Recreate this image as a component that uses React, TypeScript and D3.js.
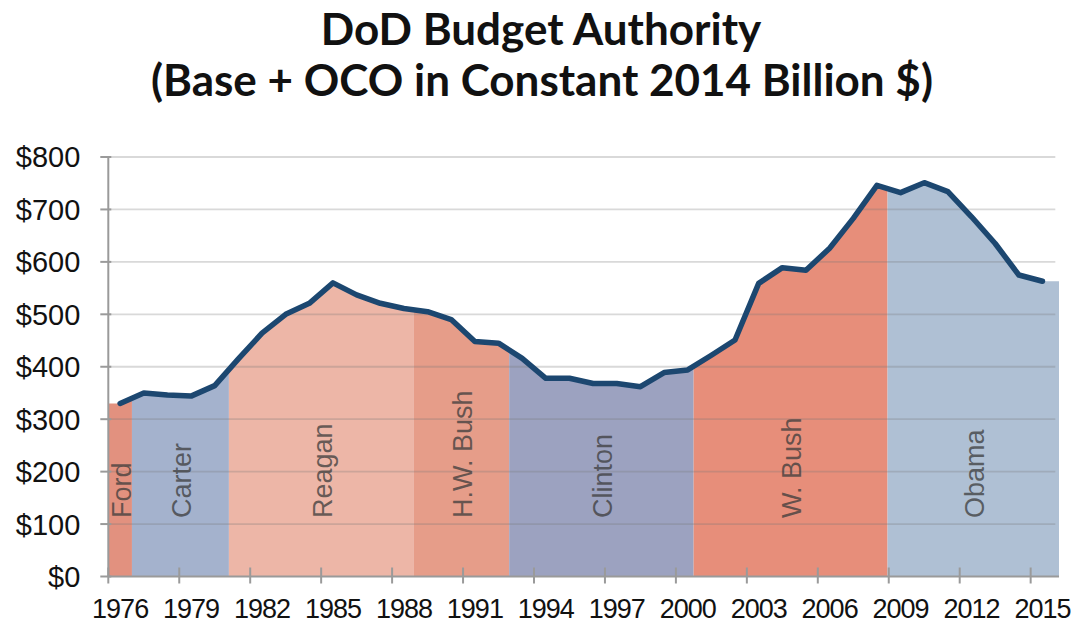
import { useEffect, useRef } from "react";
import * as d3 from "d3";

// DoD budget authority, base + OCO, constant 2014 $bn
const years = d3.range(1976, 2016);
const budget = [
  330, 350, 346, 344, 364, 415, 464, 500, 521, 560,
  537, 521, 511, 505, 490, 448, 445, 416, 378, 378,
  368, 368, 362, 389, 394, 422, 451, 559, 589, 584,
  626, 683, 746, 732, 751, 734, 686, 635, 575, 563,
];

// presidencies as fractional fiscal-year spans
const eraNames = ["Ford", "Carter", "Reagan", "H.W. Bush", "Clinton", "W. Bush", "Obama"];
const eraStart = [1976, 1977, 1981.1, 1988.9, 1992.95, 2000.75, 2008.95];
const eraEnd = [1977, 1981.1, 1988.9, 1992.95, 2000.75, 2008.95, 2016.2];
const eraColors = ["#e2917f", "#a4b2cd", "#edb6a7", "#e69d89", "#9ca2c0", "#e78e7a", "#afc0d4"];

const yTicks = [0, 100, 200, 300, 400, 500, 600, 700, 800];
const xTickYears = d3.range(1976, 2016, 3);

export default function App() {
  const ref = useRef<SVGSVGElement | null>(null);

  useEffect(() => {
    if (!ref.current) return;
    const svg = d3.select(ref.current);
    svg.selectAll("*").remove();

    const width = 1075;
    const height = 624;
    const left = 108.3;
    const right = 1054.3;
    const top = 157;
    const bottom = 576.5;

    // x in "year" units: a year's slot runs from year to year+1
    const x = d3.scaleLinear().domain([1976, 2016]).range([left, right]);
    const y = d3.scaleLinear().domain([0, 800]).range([bottom, top]);

    svg.attr("width", width).attr("height", height);

    // Title
    const title = svg.append("g")
      .attr("font-family", "Lato, 'Open Sans', sans-serif")
      .attr("font-weight", 700)
      .attr("font-size", 44)
      .attr("fill", "#111")
      .attr("text-anchor", "middle");
    title.append("text").attr("x", 541).attr("y", 45).text("DoD Budget Authority");
    title.append("text").attr("x", 542).attr("y", 96).text("(Base + OCO in Constant 2014 Billion $)");

    // Area points (extend to the plot edges)
    const pts: [number, number][] = years.map((yr, i) => [yr + 0.5, budget[i]]);
    const areaPts: [number, number][] = [
      [1976, budget[0]],
      ...pts,
      [eraEnd[eraEnd.length - 1], budget[budget.length - 1]],
    ];

    const area = d3.area<[number, number]>()
      .x(d => x(d[0]))
      .y0(y(0))
      .y1(d => y(d[1]));

    svg.append("defs").append("clipPath")
      .attr("id", "budget-clip")
      .append("path")
      .attr("d", area(areaPts)!);

    const eras = eraNames.map((name, i) => ({ name, start: eraStart[i], end: eraEnd[i], color: eraColors[i] }));

    svg.append("g")
      .attr("clip-path", "url(#budget-clip)")
      .selectAll("rect")
      .data(eras)
      .enter()
      .append("rect")
      .attr("x", d => x(d.start))
      .attr("width", d => x(d.end) - x(d.start))
      .attr("y", top - 10)
      .attr("height", bottom - top + 10)
      .attr("fill", d => d.color);

    // Gridlines (drawn over the fills)
    svg.append("g")
      .selectAll("line")
      .data(yTicks.filter(t => t > 0))
      .enter()
      .append("line")
      .attr("x1", left)
      .attr("x2", right + 1)
      .attr("y1", d => y(d))
      .attr("y2", d => y(d))
      .attr("stroke", "#777")
      .attr("stroke-opacity", 0.28)
      .attr("stroke-width", 1.8);

    // Era labels
    svg.append("g")
      .selectAll("text")
      .data(eras)
      .enter()
      .append("text")
      .attr("transform", d => `translate(${(x(d.start) + x(d.end)) / 2 + 1},518) rotate(-90)`)
      .attr("dy", "0.35em")
      .attr("font-family", "'Liberation Sans', Arial, sans-serif")
      .attr("font-size", 27)
      .attr("fill", "#3c3c3c")
      .attr("fill-opacity", 0.75)
      .text(d => d.name);

    // Budget line
    const line = d3.line<[number, number]>()
      .x(d => x(d[0]))
      .y(d => y(d[1]));

    svg.append("path")
      .attr("d", line(pts)!)
      .attr("fill", "none")
      .attr("stroke", "#1c4770")
      .attr("stroke-width", 5.5)
      .attr("stroke-linejoin", "round")
      .attr("stroke-linecap", "round");

    // Y axis
    const yAxis = svg.append("g").attr("transform", `translate(${left},0)`);
    yAxis.append("line")
      .attr("y1", top)
      .attr("y2", bottom)
      .attr("stroke", "#9a9a9a")
      .attr("stroke-width", 2);
    yAxis.selectAll("line.tick")
      .data(yTicks)
      .enter()
      .append("line")
      .attr("class", "tick")
      .attr("x1", -8)
      .attr("x2", 3)
      .attr("y1", d => y(d))
      .attr("y2", d => y(d))
      .attr("stroke", "#9a9a9a")
      .attr("stroke-width", 2);
    yAxis.selectAll("text")
      .data(yTicks)
      .enter()
      .append("text")
      .attr("x", -28)
      .attr("y", d => y(d))
      .attr("dy", "0.36em")
      .attr("text-anchor", "end")
      .attr("font-family", "'Liberation Sans', Arial, sans-serif")
      .attr("font-size", 29)
      .attr("fill", "#111")
      .text(d => `$${d}`);

    // X axis
    const xAxis = svg.append("g").attr("transform", `translate(0,${bottom})`);
    xAxis.append("line")
      .attr("x1", left)
      .attr("x2", x(eraEnd[eraEnd.length - 1]))
      .attr("stroke", "#9a9a9a")
      .attr("stroke-width", 2.2);
    xAxis.selectAll("line.tick")
      .data(xTickYears)
      .enter()
      .append("line")
      .attr("class", "tick")
      .attr("x1", d => x(d))
      .attr("x2", d => x(d))
      .attr("y1", -9)
      .attr("y2", 7)
      .attr("stroke", "#9a9a9a")
      .attr("stroke-width", 2);
    xAxis.selectAll("text")
      .data(xTickYears)
      .enter()
      .append("text")
      .attr("x", d => x(d + 0.5))
      .attr("y", 41)
      .attr("text-anchor", "middle")
      .attr("font-family", "'Liberation Sans', Arial, sans-serif")
      .attr("font-size", 27)
      .attr("letter-spacing", -1)
      .attr("fill", "#111")
      .text(d => String(d));
  }, []);

  return (
    <div style={{ position: "absolute", left: 0, top: 0, width: 1075, height: 624, background: "#fff" }}>
      <svg ref={ref} style={{ display: "block" }} />
    </div>
  );
}
